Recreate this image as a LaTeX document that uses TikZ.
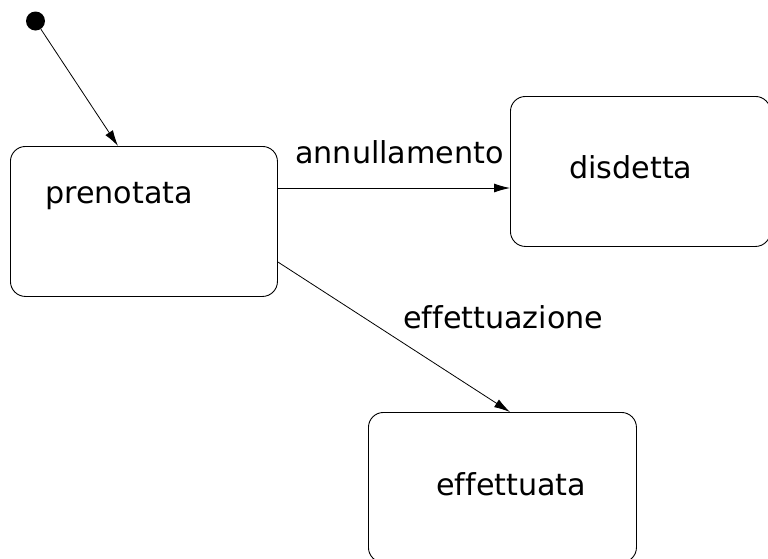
\documentclass[tikz,border=0pt]{standalone}
\usepackage{fontspec}
\setmainfont[Ligatures=NoCommon]{DejaVu Sans}
\usetikzlibrary{arrows.meta}
\begin{document}
\begin{tikzpicture}[x=1pt,y=-1pt,
  statebox/.style={draw,line width=0.9pt,rounded corners=15pt,inner sep=0pt,anchor=north west,minimum height=150pt},
  lbl/.style={inner sep=0pt,anchor=base west,font=\fontsize{30.2}{36}\selectfont},
  trans/.style={line width=0.8pt,-{Latex[length=16pt,width=9pt]}}]
\useasboundingbox (0,0) rectangle (768,558);
\node[statebox,minimum width=267pt] (pren) at (10,146) {};
\node[statebox,minimum width=260pt] (dis) at (510,96) {};
\node[statebox,minimum width=268pt] (eff) at (368,412) {};
\node[circle,fill=black,inner sep=0pt,minimum size=19pt] (init) at (35.5,21) {};
\node[lbl] (tpren) at (45,203) {prenotata};
\node[lbl] (tdis) at (569,178) {disdetta};
\node[lbl] (teff) at (436,495) {effettuata};
\node[lbl] (tann) at (295,163) {annullamento};
\node[lbl] (tefz) at (403,328) {effettuazione};
\coordinate (c1) at (118,146);
\coordinate (a1) at (0,188);
\coordinate (e1) at (0,262);
\coordinate (e2) at (510,0);
\draw[trans] (init) -- (c1);
\draw[trans] (pren.east |- a1) -- (dis.west |- a1);
\draw[trans] (pren.east |- e1) -- (eff.north -| e2);
\end{tikzpicture}
\end{document}
